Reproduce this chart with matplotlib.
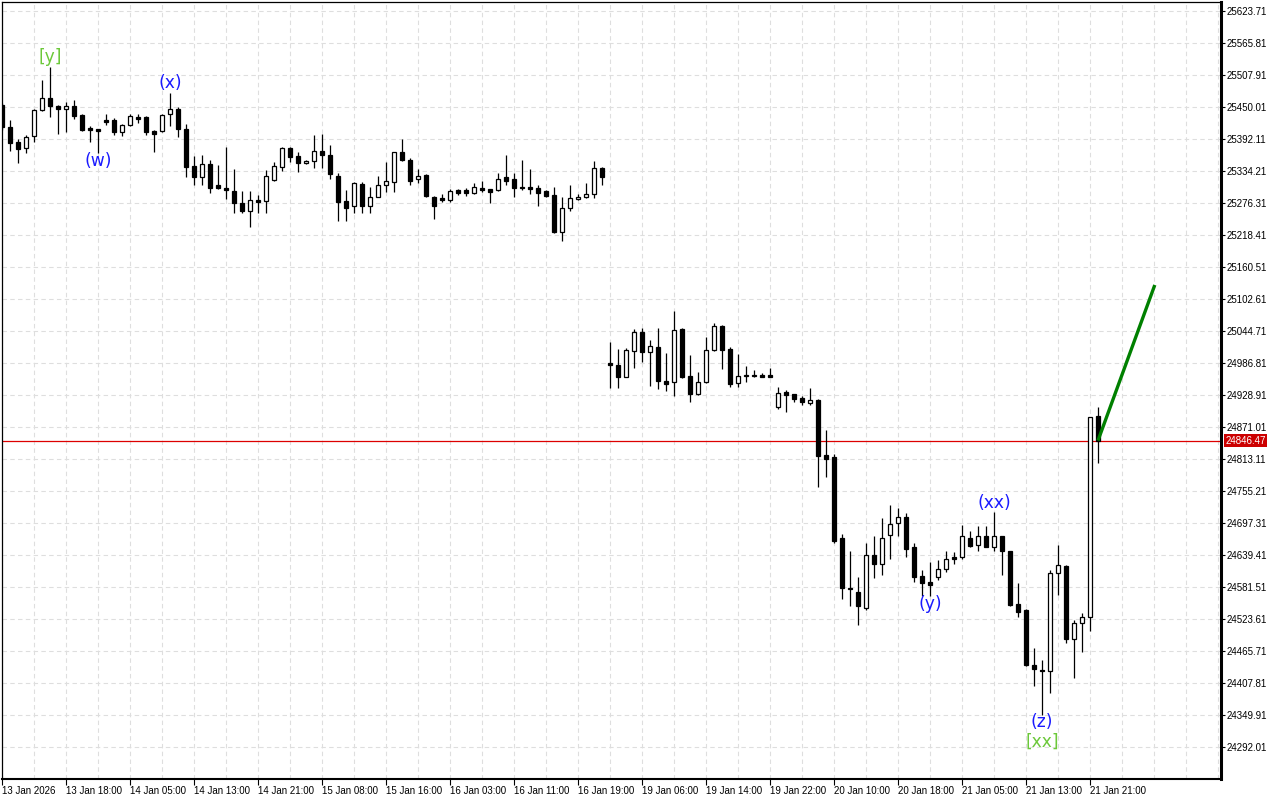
import matplotlib
matplotlib.use("Agg")
import matplotlib.pyplot as plt
from matplotlib.ticker import MultipleLocator
import matplotlib.transforms as mtransforms

# ---------------- data ----------------
opens = [25454, 25413, 25387, 25375, 25398, 25444, 25466, 25452, 25446, 25452,
         25436, 25412, 25410, 25427, 25427, 25405, 25417, 25432, 25432, 25407,
         25406, 25437, 25446, 25410, 25343, 25324, 25346, 25308, 25303, 25298,
         25276, 25261, 25282, 25280, 25318, 25342, 25376, 25361, 25348, 25353,
         25370, 25363, 25325, 25280, 25270, 25311, 25270, 25288, 25308, 25315,
         25368, 25354, 25319, 25327, 25288, 25285, 25282, 25299, 25299, 25295,
         25303, 25301, 25299, 25323, 25319, 25305, 25305, 25304, 25298, 25290,
         25223, 25267, 25284, 25287, 25292, 25339,
         24987, 24983, 24962, 25008, 25042, 25006, 25015, 24954, 24952, 25048,
         24963, 24931, 24952, 25011, 25053, 25012, 24950, 24963, 24965, 24965,
         24965, 24908, 24934, 24930, 24923, 24915, 24920, 24820, 24816, 24670,
         24580, 24572, 24543, 24639, 24623, 24676, 24697, 24708, 24653, 24601,
         24590, 24599, 24614, 24635, 24635, 24671, 24657, 24674, 24653, 24673,
         24646, 24550, 24540, 24440, 24431, 24430, 24607, 24620, 24487, 24516,
         24528, 24891]
highs = [25457, 25426, 25393, 25399, 25446, 25498, 25523, 25453, 25459, 25463,
         25437, 25416, 25411, 25437, 25430, 25419, 25437, 25437, 25434, 25408,
         25437, 25476, 25450, 25419, 25361, 25363, 25354, 25345, 25378, 25338,
         25298, 25298, 25290, 25336, 25351, 25378, 25377, 25369, 25354, 25399,
         25401, 25381, 25330, 25300, 25315, 25315, 25306, 25325, 25351, 25369,
         25392, 25357, 25337, 25328, 25289, 25292, 25302, 25301, 25303, 25313,
         25316, 25302, 25331, 25364, 25331, 25354, 25338, 25308, 25300, 25305,
         25287, 25308, 25293, 25313, 25352, 25342,
         25025, 25012, 25014, 25048, 25050, 25028, 25050, 25004, 25080, 25051,
         25001, 24970, 25034, 25059, 25056, 25015, 25003, 24981, 24975, 24968,
         24977, 24943, 24938, 24931, 24927, 24941, 24921, 24866, 24823, 24677,
         24647, 24600, 24662, 24673, 24707, 24730, 24725, 24716, 24662, 24612,
         24627, 24630, 24646, 24644, 24694, 24682, 24691, 24691, 24717, 24674,
         24647, 24588, 24541, 24472, 24449, 24612, 24658, 24622, 24522, 24535,
         24890, 24907]
lows = [25408, 25371, 25348, 25366, 25387, 25442, 25432, 25401, 25404, 25428,
        25407, 25387, 25367, 25417, 25400, 25398, 25415, 25421, 25399, 25369,
        25405, 25416, 25396, 25324, 25309, 25308, 25295, 25301, 25283, 25259,
        25258, 25232, 25258, 25259, 25317, 25335, 25351, 25333, 25347, 25339,
        25340, 25320, 25244, 25244, 25259, 25259, 25259, 25287, 25297, 25297,
        25353, 25308, 25313, 25288, 25247, 25278, 25279, 25290, 25289, 25292,
        25296, 25276, 25298, 25308, 25288, 25300, 25292, 25270, 25288, 25222,
        25208, 25261, 25282, 25285, 25285, 25309,
        24941, 24941, 24961, 24977, 24989, 24946, 24940, 24937, 24928, 24960,
        24917, 24929, 24951, 25009, 24976, 24943, 24944, 24953, 24961, 24961,
        24961, 24903, 24899, 24916, 24910, 24910, 24763, 24781, 24661, 24559,
        24548, 24513, 24540, 24597, 24604, 24633, 24674, 24636, 24590, 24565,
        24565, 24594, 24609, 24624, 24633, 24654, 24647, 24653, 24647, 24603,
        24547, 24527, 24439, 24402, 24350, 24390, 24567, 24481, 24417, 24463,
        24501, 24806]
closes = [25413, 25385, 25374, 25396, 25445, 25466, 25452, 25446, 25451, 25434,
          25408, 25409, 25407, 25423, 25405, 25417, 25434, 25429, 25405, 25401,
          25436, 25446, 25410, 25342, 25324, 25346, 25304, 25304, 25299, 25276,
          25261, 25282, 25279, 25325, 25343, 25376, 25360, 25348, 25353, 25370,
          25364, 25328, 25279, 25268, 25313, 25271, 25288, 25309, 25316, 25368,
          25355, 25317, 25325, 25289, 25270, 25282, 25298, 25295, 25295, 25305,
          25300, 25297, 25319, 25317, 25304, 25303, 25302, 25295, 25289, 25223,
          25267, 25285, 25288, 25292, 25339, 25324,
          24984, 24961, 25010, 25042, 25006, 25017, 24954, 24948, 25046, 24961,
          24931, 24952, 25010, 25053, 25011, 24948, 24964, 24965, 24963, 24962,
          24962, 24932, 24929, 24922, 24917, 24920, 24819, 24814, 24665, 24580,
          24577, 24548, 24639, 24623, 24671, 24695, 24708, 24651, 24600, 24589,
          24586, 24614, 24632, 24633, 24674, 24656, 24674, 24654, 24674, 24647,
          24549, 24537, 24440, 24433, 24430, 24606, 24621, 24487, 24516, 24527,
          24889, 24846.47]

x_labels = ["13 Jan 2026", "13 Jan 18:00", "14 Jan 05:00", "14 Jan 13:00",
            "14 Jan 21:00", "15 Jan 08:00", "15 Jan 16:00", "16 Jan 03:00",
            "16 Jan 11:00", "16 Jan 19:00", "19 Jan 06:00", "19 Jan 14:00",
            "19 Jan 22:00", "20 Jan 10:00", "20 Jan 18:00", "21 Jan 05:00",
            "21 Jan 13:00", "21 Jan 21:00"]
x_label_pos = [0, 8, 16, 24, 32, 40, 48, 56, 64, 72, 80, 88, 96, 104, 112, 120, 128, 136]

y_ticks = [24292.01, 24349.91, 24407.81, 24465.71, 24523.61, 24581.51, 24639.41,
           24697.31, 24755.21, 24813.11, 24871.01, 24928.91, 24986.81, 25044.71,
           25102.61, 25160.51, 25218.41, 25276.31, 25334.21, 25392.11, 25450.01,
           25507.91, 25565.81, 25623.71]

current_price = 24846.47
projection_x = [137, 144.1]
projection_y = [24846.47, 25128]

wave_labels = ["[y]", "(w)", "(x)", "(y)", "(xx)", "(z)", "[xx]"]
wave_x = [6, 12, 21, 116, 124, 130, 130]
wave_y = [25540, 25352, 25493, 24551, 24733, 24337, 24301]
wave_colors = ["#6cc83a", "#1a1aff", "#1a1aff", "#1a1aff", "#1a1aff", "#1a1aff", "#6cc83a"]

# ---------------- figure ----------------
W, H = 1280, 800
fig = plt.figure(figsize=(W / 100, H / 100), dpi=100)
fig.patch.set_facecolor("white")
ax = fig.add_axes([2 / W, 21 / H, (1221 - 2) / W, (779 - 2) / H])
ax.set_facecolor("white")

idx = list(range(len(opens)))
ax.vlines(idx, lows, highs, color="black", linewidth=0.9, zorder=3)
bottoms = [min(o, c) for o, c in zip(opens, closes)]
heights = [abs(c - o) for o, c in zip(opens, closes)]
fills = ["white" if c > o else "black" for o, c in zip(opens, closes)]
ax.bar(idx, heights, bottom=bottoms, width=0.62, color=fills,
       edgecolor="black", linewidth=0.9, zorder=4)

ax.axhline(current_price, color="#dd0000", linewidth=0.9, zorder=2)
ax.plot(projection_x, projection_y, color="#008000", linewidth=2.4,
        solid_capstyle="butt", zorder=5)

for lab, xx, yy, col in zip(wave_labels, wave_x, wave_y, wave_colors):
    ax.text(xx, yy, lab, color=col, fontsize=12.3, ha="center", va="center",
            family="DejaVu Sans", zorder=6)

ax.set_xlim(0, 152.375)
ax.set_ylim(24234.1, 25640.0)

# axes / ticks
ax.yaxis.tick_right()
ax.set_yticks(y_ticks)
ax.set_yticklabels([f"{v:.2f}" for v in y_ticks])
ax.tick_params(axis="y", which="major", length=3, width=0.8, pad=1,
               labelsize=7, colors="black")
ax.set_xticks(x_label_pos)
ax.set_xticklabels(x_labels)
ax.xaxis.set_minor_locator(MultipleLocator(4))
ax.tick_params(axis="x", which="major", length=4, width=0.8, pad=1,
               labelsize=7, colors="black")
ax.tick_params(axis="x", which="minor", length=0)
for t in ax.get_xticklabels():
    t.set_horizontalalignment("left")
for t in ax.get_xticklabels() + ax.get_yticklabels():
    t.set_family("Liberation Sans")

ax.grid(True, axis="x", which="both", color="#dedede", linestyle=(0, (4, 3)), linewidth=0.8, zorder=0)
ax.grid(True, axis="y", which="major", color="#dedede", linestyle=(0, (4, 3)), linewidth=0.8, zorder=0)
ax.set_axisbelow(True)

for s in ["left", "top"]:
    ax.spines[s].set_linewidth(0.9)
ax.spines["right"].set_linewidth(2.2)
ax.spines["bottom"].set_linewidth(1.5)

# current price tag
trans = mtransforms.blended_transform_factory(ax.transAxes, ax.transData)
ax.text(1.0035, current_price, f"{current_price:.2f}", transform=trans,
        color="white", fontsize=7, family="Liberation Sans", ha="left", va="center",
        bbox=dict(boxstyle="square,pad=0.15", facecolor="#cc0000", edgecolor="none"),
        clip_on=False, zorder=10)

fig.savefig("out.png", dpi=100, facecolor="white")
